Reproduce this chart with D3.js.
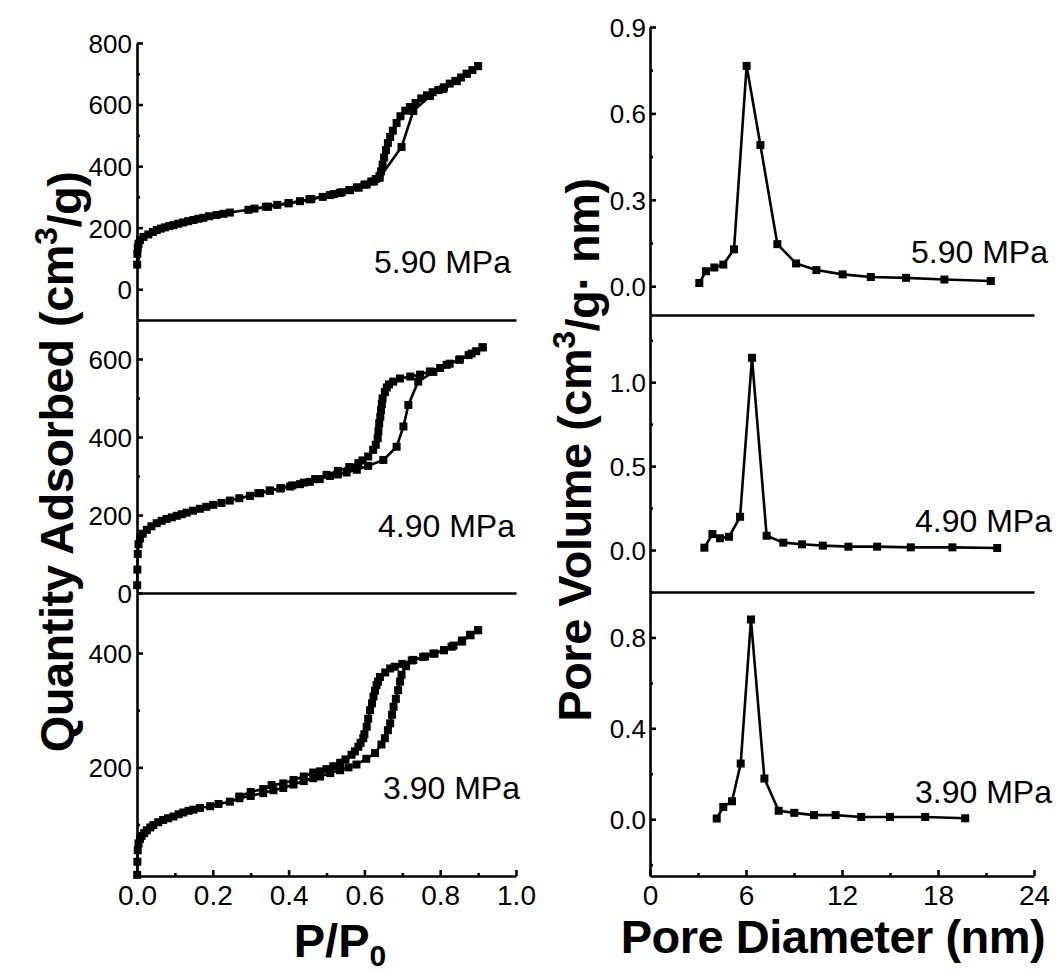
<!DOCTYPE html>
<html lang="en">
<head>
<meta charset="utf-8">
<title>Isotherms and pore size distribution</title>
<script src="https://cdn.jsdelivr.net/npm/d3@7"></script>
<style>
  body { margin: 0; background: #fff; }
  text { font-family: "Liberation Sans", Arial, sans-serif; fill: #000; }
</style>
</head>
<body>
<script>

// ---- data ----
var pressures = ["5.90 MPa", "4.90 MPa", "3.90 MPa"];

// N2 isotherms, [P/P0, quantity adsorbed cm3/g]
var ads59 = [[0.0005,80],[0.001,115],[0.002,135],[0.004,148],[0.008,160],[0.017,170],[0.03,178],[0.042,186],[0.052,192],[0.063,197],[0.074,201],[0.085,205],[0.096,208],[0.109,213],[0.122,217],[0.135,221],[0.149,225],[0.162,229],[0.175,232],[0.19,237],[0.21,241],[0.228,245],[0.245,249],[0.294,258],[0.346,268],[0.40,279],[0.455,292],[0.509,306],[0.535,313],[0.562,322],[0.585,330],[0.606,340],[0.625,350],[0.64,362],[0.698,462],[0.729,579],[0.773,628],[0.808,650],[0.844,676],[0.87,700],[0.9,725]];
var des59 = [[0.9,725],[0.885,712],[0.87,700],[0.855,688],[0.84,677],[0.825,668],[0.81,656],[0.795,647],[0.78,640],[0.765,630],[0.75,620],[0.735,605],[0.72,592],[0.708,580],[0.695,562],[0.685,540],[0.675,515],[0.668,495],[0.662,475],[0.657,452],[0.652,428],[0.648,405],[0.644,383],[0.64,368],[0.63,358],[0.618,350],[0.60,340],[0.58,331],[0.56,322],[0.54,315],[0.52,309],[0.49,300],[0.46,293],[0.43,286],[0.40,280],[0.37,274],[0.34,268],[0.31,262]];

var ads49 = [[0.0005,20],[0.001,60],[0.002,100],[0.004,125],[0.008,140],[0.015,152],[0.026,162],[0.038,171],[0.052,179],[0.065,185],[0.078,190],[0.092,194],[0.105,198],[0.118,202],[0.131,206],[0.148,211],[0.166,216],[0.183,221],[0.201,226],[0.223,231],[0.245,237],[0.27,243],[0.298,249],[0.325,256],[0.351,262],[0.378,268],[0.404,273],[0.43,279],[0.456,285],[0.482,292],[0.509,300],[0.53,304],[0.553,309],[0.58,316],[0.61,326],[0.65,341],[0.685,375],[0.703,427],[0.716,482],[0.742,542],[0.782,567],[0.817,585],[0.852,599],[0.883,614],[0.912,630]];
var des49 = [[0.912,630],[0.895,620],[0.875,610],[0.85,598],[0.825,588],[0.80,577],[0.773,568],[0.747,560],[0.721,555],[0.694,550],[0.676,542],[0.665,535],[0.659,527],[0.654,515],[0.648,499],[0.646,485],[0.644,469],[0.642,452],[0.639,435],[0.637,415],[0.635,397],[0.63,380],[0.623,367],[0.61,350],[0.595,340],[0.584,333],[0.56,323],[0.53,313],[0.50,303],[0.47,292],[0.44,283],[0.41,276],[0.38,269],[0.35,263],[0.32,256]];

var ads39 = [[0.0005,12],[0.001,35],[0.002,55],[0.004,67],[0.008,75],[0.012,80],[0.019,85],[0.026,90],[0.035,95],[0.043,99],[0.056,104],[0.069,108],[0.082,111],[0.096,114],[0.11,118],[0.122,121],[0.136,124],[0.149,126],[0.166,129],[0.193,132],[0.215,136],[0.245,140],[0.27,146],[0.3,150],[0.333,155],[0.36,160],[0.386,164],[0.413,170],[0.44,176],[0.465,181],[0.483,184],[0.51,190],[0.536,195],[0.558,200],[0.579,205],[0.605,215],[0.628,225],[0.645,240],[0.654,251],[0.662,265],[0.668,277],[0.673,292],[0.677,306],[0.683,320],[0.689,335],[0.694,350],[0.698,362],[0.71,377],[0.725,387],[0.755,393],[0.782,399],[0.81,405],[0.83,411],[0.857,420],[0.879,432],[0.9,440]];
var des39 = [[0.9,440],[0.88,431],[0.858,422],[0.835,413],[0.81,405],[0.785,399],[0.76,394],[0.729,388],[0.70,381],[0.68,376],[0.668,373],[0.655,366],[0.641,358],[0.636,350],[0.632,344],[0.628,334],[0.624,324],[0.62,312],[0.615,300],[0.61,285],[0.606,271],[0.6,258],[0.597,251],[0.59,243],[0.584,236],[0.575,228],[0.566,222],[0.55,214],[0.536,208],[0.518,202],[0.50,197],[0.483,193],[0.465,191],[0.44,184],[0.413,178],[0.386,172],[0.355,169],[0.333,162],[0.30,157],[0.27,149]];

// pore size distributions, [diameter nm, pore volume cm3/g.nm]
var psd59 = [[3.08,0.011],[3.5,0.052],[4.02,0.065],[4.58,0.075],[5.25,0.128],[6.04,0.765],[6.9,0.49],[7.96,0.146],[9.13,0.079],[10.4,0.056],[12.04,0.041],[13.8,0.032],[16.0,0.029],[18.4,0.023],[21.3,0.018]];
var psd49 = [[3.4,0.014],[3.9,0.095],[4.375,0.07],[4.94,0.079],[5.63,0.198],[6.375,1.145],[7.29,0.085],[8.33,0.044],[9.5,0.034],[10.8,0.026],[12.4,0.02],[14.2,0.02],[16.3,0.016],[18.9,0.016],[21.7,0.012]];
var psd39 = [[4.17,0.003],[4.58,0.054],[5.125,0.079],[5.67,0.245],[6.31,0.879],[7.15,0.179],[8.04,0.037],[9.02,0.028],[10.25,0.018],[11.6,0.018],[13.2,0.01],[15.0,0.01],[17.2,0.01],[19.7,0.004]];

// ticks
var isoXTicks = [0, 0.2, 0.4, 0.6, 0.8, 1.0];
var isoXMinor = [0.1, 0.3, 0.5, 0.7, 0.9];
var psdXTicks = [0, 6, 12, 18, 24];
var psdXMinor = [3, 9, 15, 21];

var W = 1057, H = 972;
var SW = 2.6; // stroke width

var svg = d3.select("body").append("svg")
  .attr("width", W).attr("height", H);
svg.append("rect").attr("width", W).attr("height", H).attr("fill", "#fff");

var xIso = d3.scaleLinear().domain([0, 1]).range([137, 516]);
var xPsd = d3.scaleLinear().domain([0, 24]).range([650, 1034]);

// left panels
var leftPanels = [
  { top: 43, bottom: 320, domain: [-100, 800], ticks: [0, 200, 400, 600, 800], minor: [-100, 100, 300, 500, 700],
    series: [ads59, des59], label: pressures[0], lx: 511, ly: 273 },
  { top: 320, bottom: 593, domain: [0, 700], ticks: [0, 200, 400, 600], minor: [100, 300, 500],
    series: [ads49, des49], label: pressures[1], lx: 515, ly: 537 },
  { top: 593, bottom: 876, domain: [10, 505], ticks: [200, 400], minor: [100, 300],
    series: [ads39, des39], label: pressures[2], lx: 520, ly: 799 }
];

// right panels
var rightPanels = [
  { top: 27, bottom: 315, domain: [-0.1, 0.9], ticks: [0, 0.3, 0.6, 0.9], minor: [0.15, 0.45, 0.75], fmt: ".1f",
    series: [psd59], label: pressures[0], lx: 1048, ly: 263 },
  { top: 315, bottom: 592, domain: [-0.25, 1.4], ticks: [0, 0.5, 1.0], minor: [-0.25, 0.25, 0.75, 1.25], fmt: ".1f",
    series: [psd49], label: pressures[1], lx: 1052, ly: 532 },
  { top: 592, bottom: 876, domain: [-0.25, 1.0], ticks: [0, 0.4, 0.8], minor: [-0.2, 0.2, 0.6], fmt: ".1f",
    series: [psd39], label: pressures[2], lx: 1052, ly: 803 }
];

function drawPanel(p, x, isLast, yFmt, pad) {
  var y = d3.scaleLinear().domain(p.domain).range([p.bottom, p.top]);
  var x0 = x.range()[0];
  var g = svg.append("g");

  // y minor ticks
  g.append("g").attr("transform", "translate(" + x0 + ",0)")
    .call(d3.axisLeft(y).tickValues(p.minor).tickSizeInner(-3).tickSizeOuter(0).tickFormat(""))
    .call(function(s) { s.select(".domain").remove(); });
  // y major
  var ya = g.append("g").attr("transform", "translate(" + x0 + ",0)")
    .call(d3.axisLeft(y).tickValues(p.ticks).tickSizeInner(-6).tickSizeOuter(0).tickPadding(pad).tickFormat(yFmt));
  ya.selectAll("text").style("font-size", "26px").attr("dy", "0.36em");

  // x axis line (bottom of panel)
  var xa = g.append("g").attr("transform", "translate(0," + p.bottom + ")");
  if (isLast) {
    xa.call(d3.axisBottom(x).tickValues(x === xIso ? isoXMinor : psdXMinor).tickSizeInner(-3).tickSizeOuter(0).tickFormat(""));
    xa.select(".domain").remove();
    var xb = g.append("g").attr("transform", "translate(0," + p.bottom + ")")
      .call(d3.axisBottom(x).tickValues(x === xIso ? isoXTicks : psdXTicks).tickSizeInner(-6).tickSizeOuter(0)
        .tickPadding(9).tickFormat(x === xIso ? d3.format(".1f") : d3.format("d")));
    xb.selectAll("text").style("font-size", "28px");
  } else {
    xa.call(d3.axisBottom(x).tickValues([]).tickSizeOuter(0));
  }
  g.selectAll(".domain, .tick line").attr("stroke", "#000").attr("stroke-width", SW);

  var line = d3.line().x(function(d) { return x(d[0]); }).y(function(d) { return y(d[1]); });
  p.series.forEach(function(s) {
    g.append("path").datum(s).attr("d", line)
      .attr("fill", "none").attr("stroke", "#000").attr("stroke-width", SW).attr("stroke-linejoin", "round");
    g.selectAll(null).data(s).enter().append("rect")
      .attr("x", function(d) { return x(d[0]) - 4; })
      .attr("y", function(d) { return y(d[1]) - 4; })
      .attr("width", 8).attr("height", 8).attr("fill", "#000");
  });

  g.append("text").attr("x", p.lx).attr("y", p.ly)
    .attr("text-anchor", "end").style("font-size", "32px").text(p.label);
}

leftPanels.forEach(function(p, i) {
  drawPanel(p, xIso, i === leftPanels.length - 1, d3.format("d"), 5);
});
rightPanels.forEach(function(p, i) {
  drawPanel(p, xPsd, i === rightPanels.length - 1, d3.format(p.fmt), 4);
});

// axis titles
var yl = svg.append("text")
  .attr("transform", "translate(73,462) rotate(-90)")
  .attr("text-anchor", "middle")
  .style("font-size", "47px").style("font-weight", "bold").style("letter-spacing", "-0.5px");
yl.append("tspan").text("Quantity Adsorbed (cm");
yl.append("tspan").attr("dy", "-0.5em").style("font-size", "32px").text("3");
yl.append("tspan").attr("dy", "0.5em").text("/g)");

var yr = svg.append("text")
  .attr("transform", "translate(591,450) rotate(-90)")
  .attr("text-anchor", "middle")
  .style("font-size", "47px").style("font-weight", "bold").style("letter-spacing", "-0.5px");
yr.append("tspan").text("Pore Volume (cm");
yr.append("tspan").attr("dy", "-0.5em").style("font-size", "32px").text("3");
yr.append("tspan").attr("dy", "0.5em").text("/g\u00B7 nm)");

var xl = svg.append("text")
  .attr("x", 340).attr("y", 957)
  .attr("text-anchor", "middle")
  .style("font-size", "47px").style("font-weight", "bold");
xl.append("tspan").text("P/P");
xl.append("tspan").attr("dy", "0.3em").style("font-size", "30px").text("0");

svg.append("text")
  .attr("x", 833).attr("y", 953)
  .attr("text-anchor", "middle")
  .style("font-size", "47px").style("font-weight", "bold").style("letter-spacing", "-0.5px")
  .text("Pore Diameter (nm)");

</script>
</body>
</html>
